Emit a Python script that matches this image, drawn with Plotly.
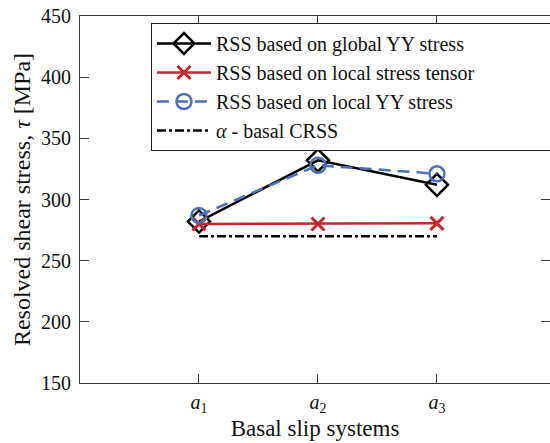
import plotly.graph_objects as go

systems = ["a1", "a2", "a3"]
tick_labels = ["<i>a</i><sub>1</sub>", "<i>a</i><sub>2</sub>", "<i>a</i><sub>3</sub>"]
x_pos = [1, 2, 3]
rss_global_yy = [282, 332, 312]
rss_local_tensor = [280, 280, 280.5]
rss_local_yy = [287, 328, 321]
basal_crss = [270, 270, 270]

FONT = "Liberation Serif"
BLUE = "#4A70B5"
RED = "#C0282D"

fig = go.Figure()
fig.add_trace(go.Scatter(
    x=x_pos, y=rss_global_yy, mode="lines+markers",
    name="RSS based on global YY stress",
    line=dict(color="black", width=2.5),
    marker=dict(symbol="diamond-open", size=17, color="black", line=dict(width=2.5)),
))
fig.add_trace(go.Scatter(
    x=x_pos, y=rss_local_tensor, mode="lines+markers",
    name="RSS based on local stress tensor",
    line=dict(color=RED, width=2.5),
    marker=dict(symbol="x-thin-open", size=13, color=RED, line=dict(width=3, color=RED)),
))
fig.add_trace(go.Scatter(
    x=x_pos, y=rss_local_yy, mode="lines+markers",
    name="RSS based on local YY stress",
    line=dict(color=BLUE, width=2.5, dash="12px,7px"),
    marker=dict(symbol="circle-open", size=15, color=BLUE, line=dict(width=2.5)),
))
fig.add_trace(go.Scatter(
    x=x_pos, y=basal_crss, mode="lines",
    name="<i>α</i> - basal CRSS",
    line=dict(color="black", width=2.5, dash="9px,3px,3px,3px"),
))

axis_common = dict(
    showgrid=False, zeroline=False, showline=True, linecolor="#3a3a3a", linewidth=1,
    ticks="inside", ticklen=9, tickcolor="#3a3a3a", tickwidth=1,
    mirror="ticks", tickfont=dict(family=FONT, size=20, color="#111"),
)

fig.update_layout(
    width=550, height=443,
    margin=dict(l=80, r=0, t=16, b=60, autoexpand=False),
    paper_bgcolor="white", plot_bgcolor="white",
    showlegend=True,
    legend=dict(
        orientation="h",
        x=0.151, y=0.981, xanchor="left", yanchor="top",
        bgcolor="white", bordercolor="#222", borderwidth=1,
        font=dict(family=FONT, size=20, color="#111"),
        tracegroupgap=0, itemwidth=54,
        entrywidth=390, entrywidthmode="pixels",
    ),
    xaxis=dict(
        **axis_common, range=[0, 3.95], tickvals=x_pos, ticktext=tick_labels,
        ticklabelstandoff=1,
        title=dict(text="Basal slip systems", font=dict(family=FONT, size=23, color="#111"), standoff=0),
    ),
    yaxis=dict(
        **axis_common, range=[150, 450], tickvals=[150, 200, 250, 300, 350, 400, 450],
        ticklabelstandoff=4,
        title=dict(text="Resolved shear stress, <i>τ</i> [MPa]", font=dict(family=FONT, size=24, color="#111"), standoff=3),
    ),
)

fig.write_html("out.html")
